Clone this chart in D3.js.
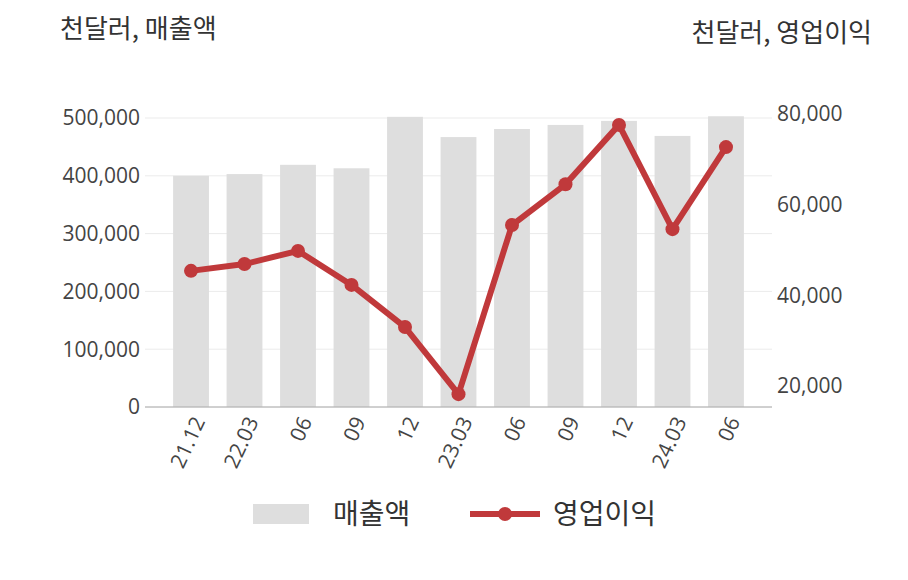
<!DOCTYPE html>
<html><head><meta charset="utf-8">
<script src="https://cdn.jsdelivr.net/npm/d3@7"></script>
<style>body{margin:0;background:#fff}text{font-family:"Noto Sans CJK KR","Noto Sans",sans-serif}.num{font-family:"Open Sans","Noto Sans",sans-serif}</style>
</head><body><svg id="c" width="908" height="580"></svg>
<script>
const categories=["21.12","22.03","06","09","12","23.03","06","09","12","24.03","06"];
const sales=[400000,403000,419000,413000,502000,467000,481000,488000,495000,469000,503000];
const profit=[45400,46900,49800,42300,33000,18200,55500,64500,77600,54600,72700];
const leftTicks=[0,100000,200000,300000,400000,500000];
const rightTicks=[20000,40000,60000,80000];
const svg=d3.select("#c");
const x=d3.scaleBand().domain(d3.range(categories.length)).range([164,753]).paddingInner(0.33).paddingOuter(0.17);
const yL=d3.scaleLinear().domain([0,500000]).range([407,118]);
const yR=d3.scaleLinear().domain([15370,80000]).range([407,114]);
const fmt=d3.format(",");
svg.selectAll(".g").data(leftTicks).enter().append("line").attr("x1",145).attr("x2",772)
 .attr("y1",d=>yL(d)).attr("y2",d=>yL(d)).attr("stroke","#ebebeb");
svg.selectAll(".b").data(sales).enter().append("rect").attr("x",(d,i)=>x(i)).attr("width",x.bandwidth())
 .attr("y",d=>yL(d)).attr("height",d=>407-yL(d)).attr("fill","#dedede");
svg.append("line").attr("x1",145).attr("x2",772).attr("y1",407).attr("y2",407).attr("stroke","#aaa");
svg.selectAll(".lt").data(leftTicks).enter().append("text").attr("class","num").attr("x",140).attr("y",d=>yL(d)).attr("dy","0.35em")
 .attr("text-anchor","end").attr("font-size",21).attr("fill","#444").text(fmt);
svg.selectAll(".rt").data(rightTicks).enter().append("text").attr("class","num").attr("x",777).attr("y",d=>yR(d)).attr("dy","0.35em")
 .attr("font-size",21).attr("fill","#444").text(fmt);
svg.selectAll(".xt").data(categories).enter().append("text").attr("class","num")
 .attr("transform",(d,i)=>`translate(${x(i)+x.bandwidth()/2+8},418) rotate(-65)`)
 .attr("text-anchor","end").attr("dy","0.35em").attr("font-size",21).attr("fill","#444").text(d=>d);
const line=d3.line().x((d,i)=>x(i)+x.bandwidth()/2).y(d=>yR(d));
svg.append("path").datum(profit).attr("d",line).attr("fill","none").attr("stroke","#c0393b").attr("stroke-width",6).attr("stroke-linejoin","round");
svg.selectAll(".p").data(profit).enter().append("circle").attr("cx",(d,i)=>x(i)+x.bandwidth()/2).attr("cy",d=>yR(d)).attr("r",7).attr("fill","#c0393b");
svg.append("text").attr("x",60).attr("y",38).attr("font-size",26).attr("fill","#333").text("천달러, 매출액");
svg.append("text").attr("x",872).attr("y",42).attr("text-anchor","end").attr("font-size",26).attr("fill","#333").text("천달러, 영업이익");
svg.append("rect").attr("x",253).attr("y",504).attr("width",56).attr("height",20).attr("fill","#dedede");
svg.append("text").attr("x",333).attr("y",514).attr("dy","0.35em").attr("font-size",28).attr("fill","#333").text("매출액");
svg.append("line").attr("x1",470).attr("x2",540).attr("y1",514).attr("y2",514).attr("stroke","#c0393b").attr("stroke-width",6);
svg.append("circle").attr("cx",505).attr("cy",514).attr("r",7).attr("fill","#c0393b");
svg.append("text").attr("x",553).attr("y",514).attr("dy","0.35em").attr("font-size",28).attr("fill","#333").text("영업이익");
</script></body></html>
